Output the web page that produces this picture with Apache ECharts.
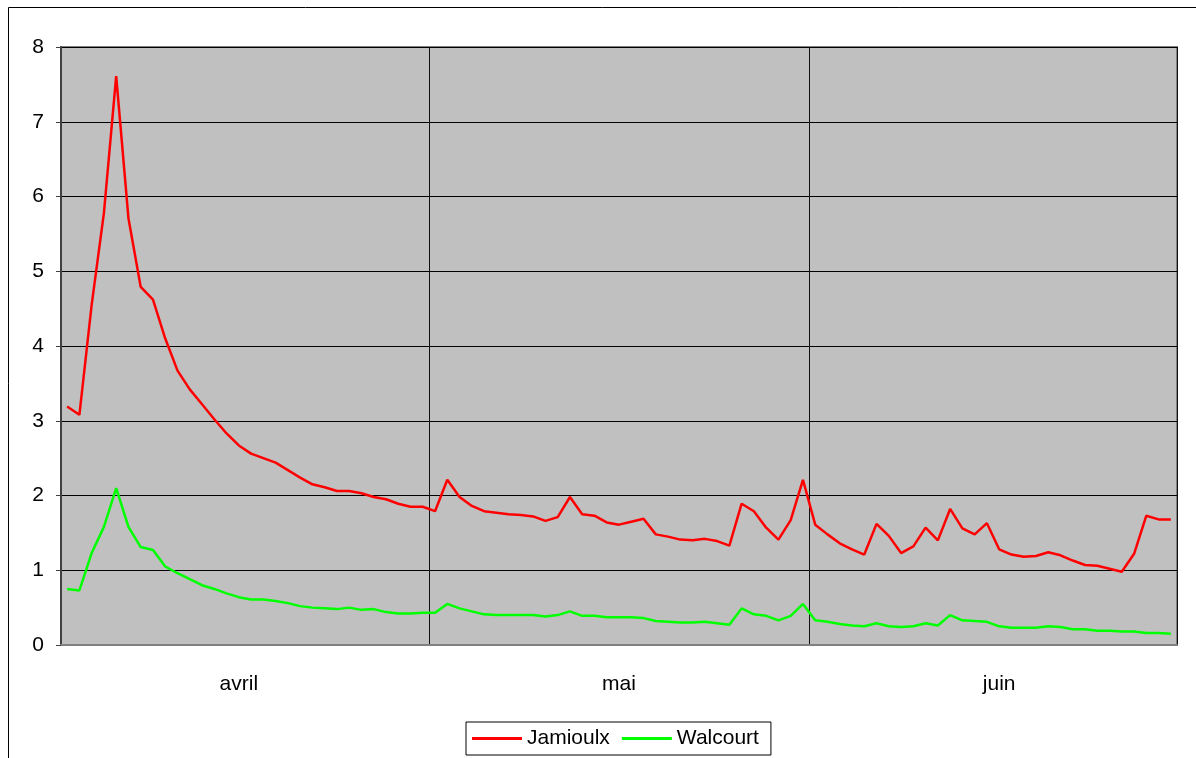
<!DOCTYPE html>
<html>
<head>
<meta charset="utf-8">
<script src="https://cdn.jsdelivr.net/npm/echarts@6/dist/echarts.min.js"></script>
<style>
html,body{margin:0;padding:0;background:#fff;}
#chart{width:1196px;height:758px;}
</style>
</head>
<body>
<div id="chart"></div>
<script>
// Month structure (avril, mai, juin)
var monthNames = ['avril', 'mai', 'juin'];
var monthDays = [30, 31, 30];
// Category index at which each month label is written
var monthLabelIndex = [14, 45, 76];
// Category index where each month starts (vertical separators)
var monthStartIndex = [30, 61];

var days = [];
for (var m = 0; m < monthNames.length; m++) {
  for (var d = 1; d <= monthDays[m]; d++) days.push(d + ' ' + monthNames[m]);
}

var jamioulx = [
  3.19, 3.08, 4.55, 5.78, 7.61, 5.71, 4.79, 4.62, 4.10, 3.67,
  3.42, 3.22, 3.02, 2.83, 2.67, 2.56, 2.50, 2.44, 2.34, 2.24,
  2.15, 2.11, 2.06, 2.06, 2.03, 1.98, 1.95, 1.89, 1.85, 1.85,
  1.79, 2.21, 1.98, 1.86, 1.79, 1.77, 1.75, 1.74, 1.72, 1.66,
  1.71, 1.98, 1.75, 1.73, 1.64, 1.61, 1.65, 1.69, 1.48, 1.45,
  1.41, 1.40, 1.42, 1.39, 1.33, 1.89, 1.79, 1.57, 1.41, 1.67,
  2.21, 1.61, 1.48, 1.36, 1.28, 1.21, 1.62, 1.46, 1.23, 1.32,
  1.57, 1.40, 1.82, 1.56, 1.48, 1.63, 1.28, 1.21, 1.18, 1.19,
  1.24, 1.20, 1.13, 1.07, 1.06, 1.02, 0.98, 1.22, 1.73, 1.68,
  1.68
];
var walcourt = [
  0.75, 0.73, 1.23, 1.58, 2.10, 1.58, 1.31, 1.27, 1.05, 0.96,
  0.88, 0.80, 0.75, 0.69, 0.64, 0.61, 0.61, 0.59, 0.56, 0.52,
  0.50, 0.49, 0.48, 0.50, 0.47, 0.48, 0.44, 0.42, 0.42, 0.43,
  0.43, 0.55, 0.49, 0.45, 0.41, 0.40, 0.40, 0.40, 0.40, 0.38,
  0.40, 0.45, 0.39, 0.39, 0.37, 0.37, 0.37, 0.36, 0.32, 0.31,
  0.30, 0.30, 0.31, 0.29, 0.27, 0.49, 0.41, 0.39, 0.33, 0.39,
  0.55, 0.33, 0.31, 0.28, 0.26, 0.25, 0.29, 0.25, 0.24, 0.25,
  0.29, 0.26, 0.40, 0.33, 0.32, 0.31, 0.25, 0.23, 0.23, 0.23,
  0.25, 0.24, 0.21, 0.21, 0.19, 0.19, 0.18, 0.18, 0.16, 0.16,
  0.15
];
var yTicks = [0, 1, 2, 3, 4, 5, 6, 7, 8];

var chart = echarts.init(document.getElementById('chart'), null, {renderer: 'canvas'});
var font = '"Liberation Sans", Arial, sans-serif';
chart.setOption({
  animation: false,
  textStyle: {fontFamily: font},
  graphic: [{
    type: 'rect',
    shape: {x: 8.5, y: 7.5, width: 1300, height: 900},
    style: {fill: 'none', stroke: '#000', lineWidth: 1},
    silent: true,
    z: -10
  }],
  grid: {
    left: 61, right: 19, top: 47, bottom: 113,
    show: true,
    backgroundColor: '#C0C0C0',
    borderColor: '#808080',
    borderWidth: 2
  },
  legend: {
    left: 466, top: 722,
    padding: [6, 12, 6, 6],
    itemWidth: 50, itemHeight: 3, itemGap: 12,
    icon: 'rect',
    borderColor: '#000', borderWidth: 1,
    backgroundColor: '#fff',
    textStyle: {fontSize: 21, color: '#000', fontFamily: font},
    data: ['Jamioulx', 'Walcourt']
  },
  xAxis: {
    type: 'category',
    data: days,
    boundaryGap: true,
    axisLine: {show: true, lineStyle: {color: '#808080', width: 2}},
    axisTick: {show: false},
    axisLabel: {
      interval: function (idx) { return monthLabelIndex.indexOf(idx) >= 0; },
      formatter: function (v, idx) {
        var k = monthLabelIndex.indexOf(idx);
        return k >= 0 ? monthNames[k] : '';
      },
      fontSize: 21, color: '#000', margin: 29, fontFamily: font
    },
    splitLine: {
      show: true,
      interval: function (idx) { return monthStartIndex.indexOf(idx) >= 0; },
      lineStyle: {color: '#111', width: 1}
    }
  },
  yAxis: {
    type: 'value',
    min: 0, max: 8, interval: 1,
    axisLine: {show: true, lineStyle: {color: '#404040', width: 2}},
    axisTick: {show: true, length: 5, lineStyle: {color: '#404040'}},
    axisLabel: {
      fontSize: 21, color: '#000', margin: 17, fontFamily: font,
      formatter: function (v) { return yTicks.indexOf(v) >= 0 ? String(v) : ''; }
    },
    splitLine: {show: true, lineStyle: {color: '#000', width: 1}}
  },
  series: [
    {
      name: 'Jamioulx', type: 'line', data: jamioulx,
      showSymbol: false, symbol: 'none',
      lineStyle: {color: '#FF0000', width: 2.5},
      itemStyle: {color: '#FF0000'}
    },
    {
      name: 'Walcourt', type: 'line', data: walcourt,
      showSymbol: false, symbol: 'none',
      lineStyle: {color: '#00FF00', width: 2.5},
      itemStyle: {color: '#00FF00'}
    }
  ]
});
</script>
</body>
</html>
